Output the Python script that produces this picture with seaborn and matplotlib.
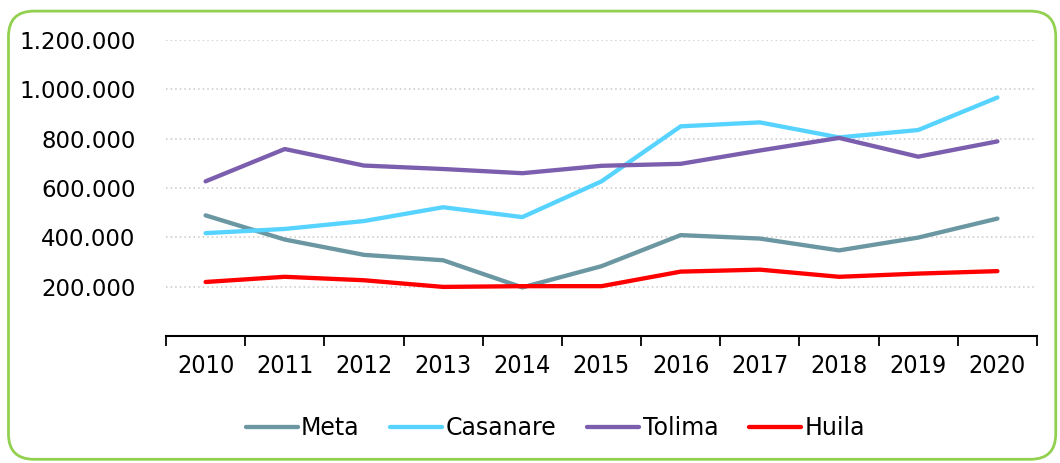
import pandas as pd
import seaborn as sns
import matplotlib.pyplot as plt
from matplotlib.patches import FancyBboxPatch
from matplotlib.ticker import FuncFormatter

sns.set_style("white")
plt.rcParams['font.family'] = ['DejaVu Sans']
plt.rcParams['text.color'] = 'black'
plt.rcParams['xtick.color'] = 'black'
plt.rcParams['ytick.color'] = 'black'

# Data
years = [2010, 2011, 2012, 2013, 2014, 2015, 2016, 2017, 2018, 2019, 2020]
meta = [489000, 391000, 329000, 307000, 197000, 283000, 409000, 395000, 347000, 399000, 476000]
casanare = [417000, 434000, 466000, 522000, 482000, 627000, 850000, 866000, 805000, 835000, 967000]
tolima = [627000, 758000, 691000, 677000, 660000, 690000, 698000, 752000, 803000, 727000, 789000]
huila = [219000, 240000, 226000, 199000, 202000, 202000, 261000, 269000, 240000, 253000, 263000]

series_names = ["Meta", "Casanare", "Tolima", "Huila"]
colors = {"Meta": "#6B97A2", "Casanare": "#57D3FF", "Tolima": "#7B5EAD", "Huila": "#FF0000"}

df = pd.DataFrame({"year": years, "Meta": meta, "Casanare": casanare,
                   "Tolima": tolima, "Huila": huila})
long_df = df.melt(id_vars="year", var_name="Departamento", value_name="valor")

fig = plt.figure(figsize=(10.6, 4.63), dpi=100)
ax = fig.add_axes([0.1566, 0.2743, 0.8217, 0.6393])

# Rounded green frame around the chart
frame = FancyBboxPatch((0.008, 0.008), 0.988, 0.968, boxstyle="round,pad=0,rounding_size=0.024",
                       transform=fig.transFigure, facecolor="none", edgecolor="#92D050",
                       linewidth=2, mutation_aspect=1060 / 463)
fig.patches.append(frame)

sns.lineplot(data=long_df, x="year", y="valor", hue="Departamento", hue_order=series_names,
             palette=colors, linewidth=3.1, ax=ax, legend=True)

ax.set_ylim(0, 1200000)
ax.set_xlim(2009.5, 2020.5)
ax.set_yticks([200000, 400000, 600000, 800000, 1000000, 1200000])
ax.yaxis.set_major_formatter(FuncFormatter(lambda v, p: f"{int(v):,}".replace(",", ".")))
ax.set_xticks(years)
ax.set_xticks([y - 0.5 for y in years] + [2020.5], minor=True)
ax.tick_params(axis="x", which="major", bottom=False, length=0, pad=13, labelsize=18)
ax.tick_params(axis="x", which="minor", bottom=True, length=7, width=1.3, direction="out",
               color="black")
ax.tick_params(axis="y", left=False, length=0, pad=22, labelsize=16.5)
for lab in ax.get_xticklabels():
    lab.set_fontstretch("condensed")

ax.grid(axis="y", linestyle=(0, (1, 2)), color="#C8C8C8", linewidth=1.1)
for side in ["left", "right", "top"]:
    ax.spines[side].set_visible(False)
ax.spines["bottom"].set_color("black")
ax.spines["bottom"].set_linewidth(1.5)
ax.set_xlabel("")
ax.set_ylabel("")

leg = ax.legend(loc="upper center", bbox_to_anchor=(0.447, -0.2), ncol=4, frameon=False,
                fontsize=17, handlelength=2.2, handletextpad=0.15, columnspacing=1.3)
for line in leg.get_lines():
    line.set_linewidth(3.1)

fig.savefig("out.png", dpi=100)
